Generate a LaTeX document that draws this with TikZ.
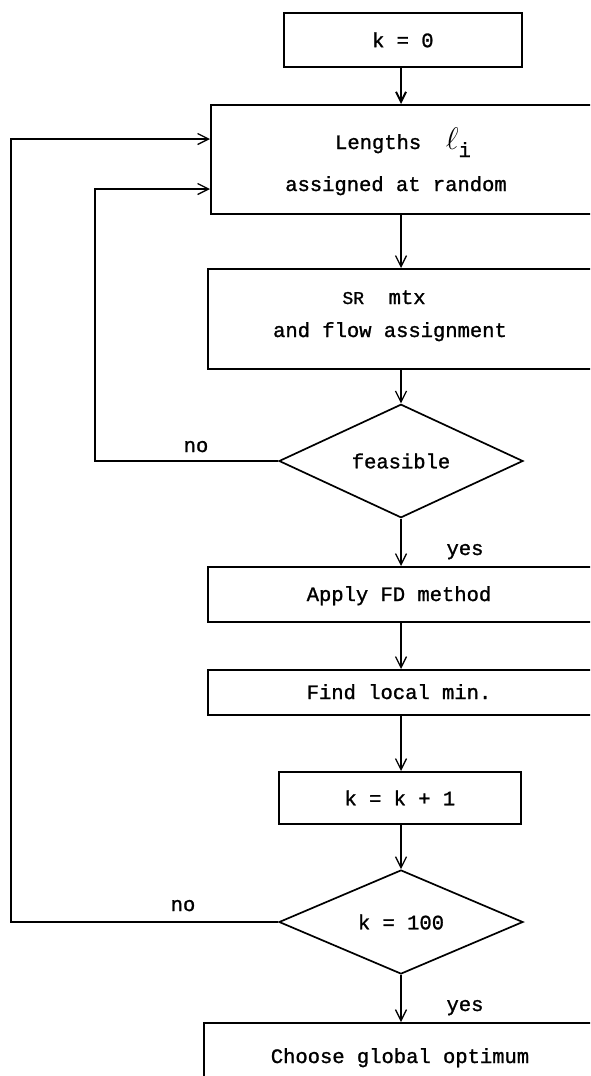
\documentclass[tikz,border=0pt]{standalone}
\usepackage{fontspec}
\setmainfont{Liberation Mono}[FakeBold=1.2]
\usetikzlibrary{shapes.geometric,arrows.meta}
\begin{document}
\begin{tikzpicture}[x=1pt,y=-1pt,
  font=\fontsize{20.5}{24}\selectfont,
  box/.style={draw,line width=1.7pt,rectangle,inner sep=0pt,anchor=north west},
  dia/.style={draw,line width=1.7pt,diamond,inner sep=0pt,minimum width=244pt,minimum height=104pt},
  txt/.style={inner sep=0pt,anchor=base},
  lbl/.style={inner sep=0pt,anchor=base},
  arr/.style={line width=1.3pt,-{Straight Barb[length=11pt,width=11pt,line width=1.3pt]}},
  conn/.style={line width=1.3pt}]
\useasboundingbox (0,0) rectangle (590,1076);
\clip (0,0) rectangle (590,1076);
\fill[white] (0,0) rectangle (590,1076);
\coordinate (spine) at (401,0);
% boxes
\node[box,minimum width=238pt,minimum height=54pt] (k0) at (283,12) {k = 0};
\node[box,minimum width=400pt,minimum height=109pt] (len) at (210,104) {};
\node[box,minimum width=400pt,minimum height=100pt] (sr) at (207,268) {};
\node[box,minimum width=400pt,minimum height=55pt] (fd) at (207,566) {};
\node[box,minimum width=400pt,minimum height=45pt] (loc) at (207,669) {};
\node[box,minimum width=242pt,minimum height=52pt] (kk) at (278,771) {k = k + 1};
\node[box,minimum width=400pt,minimum height=90pt] (opt) at (203,1022) {};
% diamonds
\node[dia] (feas) at (401,461) {feasible};
\node[dia] (k100) at (401,922) {k = 100};
% texts
\node[txt] (lenA) at (403,149) {Lengths\ \ \scalebox{1.5}{$\ell$}\raisebox{-8pt}{i}};
\node[txt] (lenB) at (396,191) {assigned at random};
\node[txt] (srA) at (384,304) {{\fontsize{18}{20}\selectfont SR}\ \ mtx};
\node[txt] (srB) at (390,337) {and flow assignment};
\node[txt] (fdT) at (399,601) {Apply FD method};
\node[txt] (locT) at (399,699) {Find local min.};
\node[txt] (optT) at (400,1063) {Choose global optimum};
% labels
\node[lbl] (no1) at (196,452) {no};
\node[lbl] (no2) at (183,911) {no};
\node[lbl] (yes1) at (465,555) {yes};
\node[lbl] (yes2) at (465,1011) {yes};
% loop coordinates
\coordinate (inner) at (95,189);
\coordinate (outer) at (11,139);
% connectors
\draw[line width=2.6pt,-{Straight Barb[length=10pt,width=10pt,line width=2pt]}] (k0.south -| spine) -- (len.north -| spine);
\draw[arr] (len.south -| spine) -- (sr.north -| spine);
\draw[arr] (sr.south -| spine) -- (feas.north);
\draw[arr] (feas.south) -- (fd.north -| spine);
\draw[arr] (fd.south -| spine) -- (loc.north -| spine);
\draw[arr] (loc.south -| spine) -- (kk.north -| spine);
\draw[arr] (kk.south -| spine) -- (k100.north);
\draw[arr] (k100.south) -- (opt.north -| spine);
\draw[arr] (feas.west) -| (inner) -- (len.west |- inner);
\draw[arr] (k100.west) -| (outer) -- (len.west |- outer);
\end{tikzpicture}
\end{document}
